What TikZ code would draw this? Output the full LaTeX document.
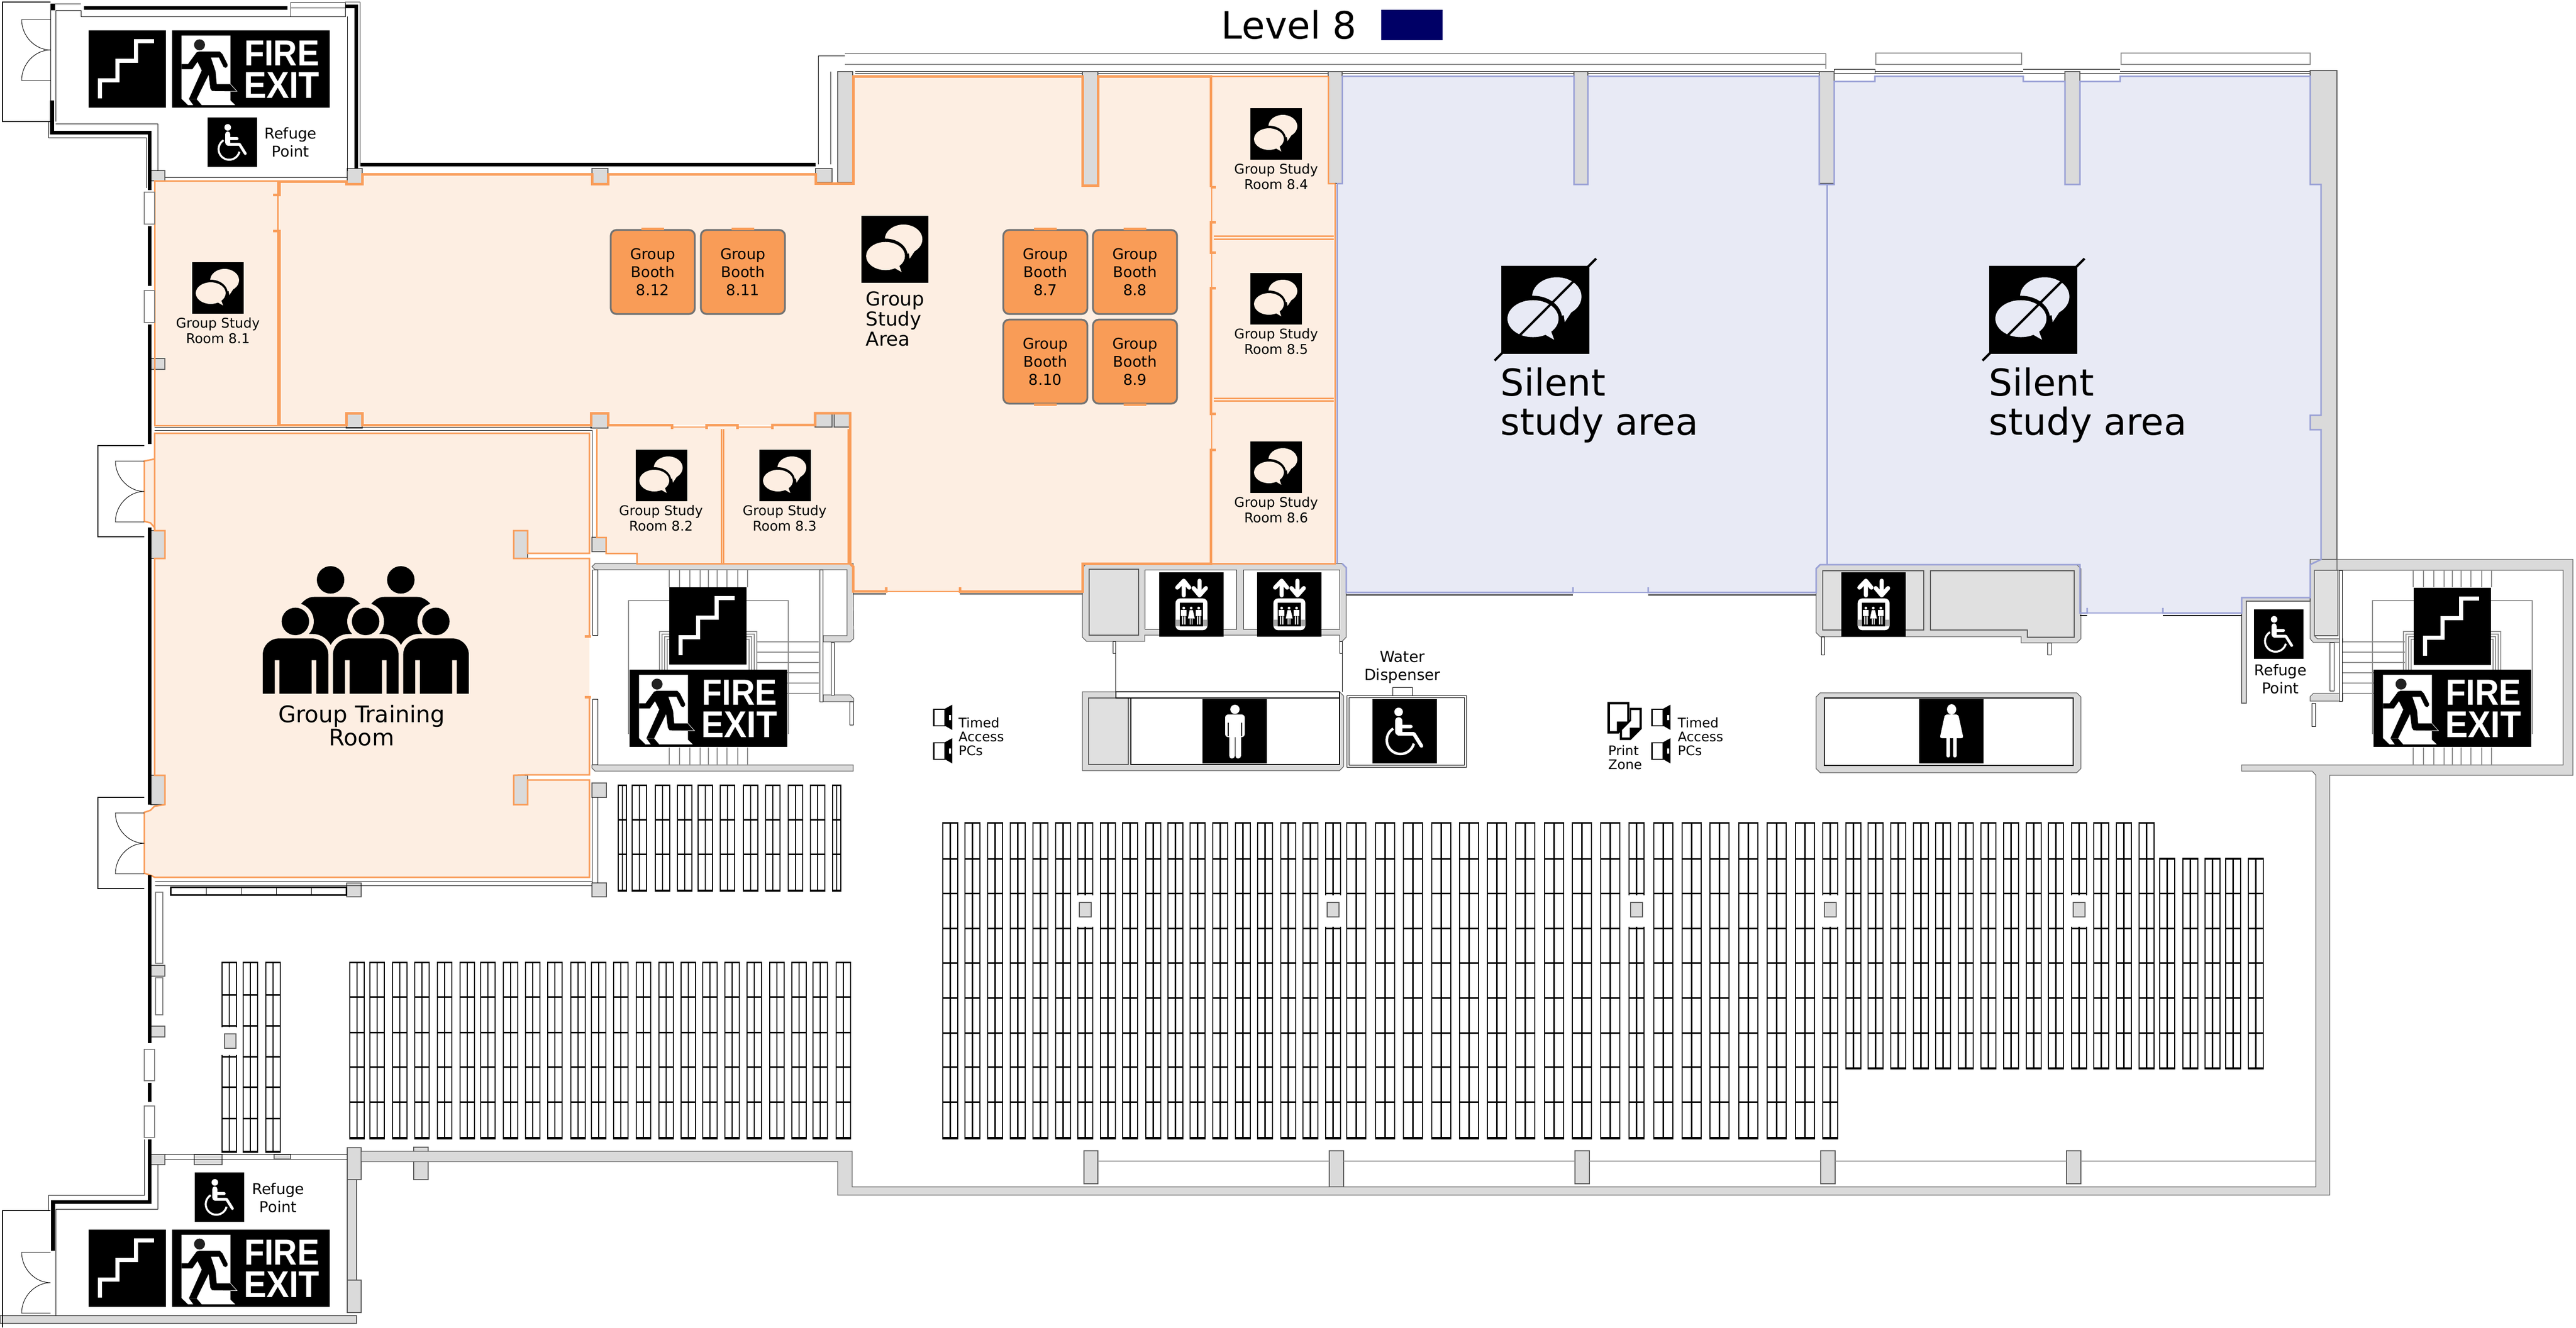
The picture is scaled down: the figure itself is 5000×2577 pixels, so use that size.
\documentclass[tikz,border=0pt]{standalone}
\usepackage{fontspec}
\setmainfont{DejaVu Sans}
\newfontfamily\exitfont{Liberation Sans}[FakeStretch=.91]
\definecolor{roomfill}{HTML}{FDEEE2}
\definecolor{roomline}{HTML}{F99D5A}
\definecolor{boothfill}{HTML}{F99C57}
\definecolor{silentfill}{HTML}{E8EAF5}
\definecolor{silentline}{HTML}{9AA1D6}
\definecolor{wallgray}{HTML}{DADADA}
\definecolor{shaftgray}{HTML}{E0E0E0}
\definecolor{levelblue}{HTML}{000066}
\colorlet{iconbg}{roomfill}
\tikzset{
  wall/.style={fill=wallgray,draw=black!65,line width=.012cm},
  shaft/.style={fill=shaftgray,draw=black!65,line width=.012cm},
  thinline/.style={draw=black,line width=.01cm},
  grayline/.style={draw=black!45,line width=.012cm},
  heavyline/.style={draw=black,line width=.07cm},
  winbox/.style={draw=black,fill=white,line width=.01cm},
  sidewin/.style={draw=black!50,fill=white,line width=.012cm},
  orangethick/.style={draw=roomline,line width=.05cm},
  orangethin/.style={draw=roomline,line width=.03cm},
  bluethin/.style={draw=silentline,line width=.03cm},
  shelfedge/.style={draw=black,line width=.012cm,fill=white},
  shelfmid/.style={draw=black,line width=.025cm},
  shelfbar/.style={draw=black,line width=.03cm},
  roomtext/.style={font=\fontsize{7.4}{8.54}\selectfont,align=center,inner sep=0},
  smalltext/.style={font=\fontsize{7.3}{7.7}\selectfont,align=left,inner sep=0},
  refugetext/.style={font=\fontsize{8.25}{9.96}\selectfont,align=center,inner sep=0},
  booth/.style={fill=boothfill,draw=black!55,line width=.035cm,rounded corners=.11cm,
    minimum width=1.63cm,minimum height=1.63cm,inner sep=0,align=center,
    font=\fontsize{8.2}{9.96}\selectfont},
  boothgap/.style={draw=boothfill,line width=.045cm},
  pics/stairsign/.style={code={
    \fill[black] (0,0) rectangle (150,150);
    \draw[white,line width=.078cm] (22,132) -- (22,97) -- (56,97) -- (56,59) -- (92,59) -- (92,21) -- (127,21);
  }},
  pics/exitsign/.style={code={
    \begin{scope}[scale=.3333,shift={(-12,-12)}]
      \fill[black] (12,12) rectangle (930,462);
      \fill[white] (67,42) -- (352,42) -- (352,420) -- (380,447) -- (185,447) -- (155,412) -- (110,412) -- (135,447) -- (105,447) -- (67,410) -- cycle;
      \fill[black] (67,208) -- (105,208) -- (155,140) -- (170,135) -- (290,135) -- (305,150) -- (335,210) -- (335,220) -- (325,230) -- (312,225) -- (285,170) -- (238,170) -- (265,250) -- (272,325) -- (352,325) -- (370,345) -- (392,367) -- (245,365) -- (235,350) -- (225,270) -- (155,412) -- (110,412) -- (185,245) -- (160,195) -- (130,238) -- (67,238) -- cycle;
      \draw[white,line width=.008cm] (352,325) -- (390,367) -- (352,367);
      \fill[black!87] (172,96) circle (32);
      \node[inner sep=0,text=white,font=\exitfont\bfseries\fontsize{20}{22}\selectfont] (firetext) at (651,145) {FIRE};
      \node[inner sep=0,text=white,font=\exitfont\bfseries\fontsize{20.6}{22}\selectfont] (exittext) at (651,331) {EXIT};
    \end{scope}
  }},
  pics/wheelsign/.style={code={
    \begin{scope}[scale=#1*.3333,shift={(-42,-55)}]
      \fill[black] (42,55) rectangle (417,430);
      \fill[white] (194,130) circle (25);
      \draw[white,line width=#1*.14cm,line cap=round] (194,182) -- (194,245);
      \draw[white,line width=#1*.07cm,line cap=round] (194,215) -- (265,215);
      \draw[white,line width=#1*.07cm,line cap=round,line join=round] (194,258) -- (283,258) -- (327,328);
      \draw[white,line width=#1*.05cm] (205,295) ++(238:80) arc[start angle=238,end angle=14,radius=80];
    \end{scope}
  }},
  pics/speech/.style={code={
    \begin{scope}[scale=#1]
      \fill[black] (0,0) rectangle (100,100);
      \fill[iconbg] (63,35) ellipse[x radius=28,y radius=22];
      \fill[iconbg] (70,50) -- (72,64) -- (84,46) -- cycle;
      \fill[black] (36,60) ellipse[x radius=33,y radius=26];
      \fill[iconbg] (36,60) ellipse[x radius=29,y radius=21];
      \fill[iconbg] (46,76) -- (60,84) -- (55,70) -- cycle;
    \end{scope}
  }},
  pics/liftsign/.style={code={
    \begin{scope}[scale=.3333,shift={(-30,-36)}]
      \fill[black] (30,36) rectangle (405,410);
      \draw[white,line width=.08cm,line cap=round,line join=round] (173,170) -- (173,85) (135,125) -- (173,85) -- (205,125);
      \draw[white,line width=.08cm,line cap=round,line join=round] (265,85) -- (265,170) (230,128) -- (265,170) -- (302,128);
      \fill[white,rounded corners=.09cm] (125,188) rectangle (311,373);
      \fill[black] (150,213) rectangle (285,350);
      \fill[black!35] (125,312) rectangle (150,350) (285,312) rectangle (311,350);
      \foreach \px in {173,260}{
        \fill[white] (\px,244) circle (8);
        \fill[white] (\px-17,256) rectangle (\px+17,292);
        \fill[white] (\px-10,292) rectangle (\px-3,340) (\px+3,292) rectangle (\px+10,340);
      }
      \fill[white] (216,244) circle (8);
      \fill[white] (207,256) -- (226,256) -- (237,305) -- (197,305) -- cycle;
      \fill[white] (208,305) rectangle (213,340) (219,305) rectangle (224,340);
    \end{scope}
  }},
  pics/malesign/.style={code={
    \fill[black] (0,0) rectangle (125,125);
    \fill[white] (63,20) ellipse[x radius=9,y radius=9];
    \fill[white,rounded corners=.06cm] (44,30) rectangle (82,74);
    \fill[white] (52,60) rectangle (74,74);
    \draw[white,line width=.11cm,line cap=round] (57,70) -- (57,110) (69,70) -- (69,110);
    \fill[black] (49,46) rectangle (51,72) (75,46) rectangle (77,72);
  }},
  pics/femalesign/.style={code={
    \fill[black] (0,0) rectangle (125,125);
    \fill[white] (63,20) ellipse[x radius=9,y radius=10];
    \fill[white,rounded corners=.04cm] (50,30) -- (76,30) -- (86,76) -- (40,76) -- cycle;
    \draw[white,line width=.07cm,line cap=round] (56,74) -- (56,110) (69,74) -- (69,110);
  }},
  pics/pcicon/.style={code={
    \begin{scope}[scale=.3333,shift={(-316,-25)}]
      \draw[black,fill=white,line width=.027cm] (320,52) rectangle (386,148);
      \fill[black] (386,48) -- (428,25) -- (428,172) -- (386,148) -- cycle;
      \fill[white] (408,85) rectangle (420,115);
    \end{scope}
  }},
  pics/printicon/.style={code={
    \begin{scope}[scale=.3333]
      \fill[black] (60,8) -- (188,8) -- (188,125) -- (125,192) -- (60,192) -- cycle;
      \fill[white] (75,22) -- (175,22) -- (175,122) -- (115,122) -- (115,178) -- (75,178) -- cycle;
      \fill[black] (190,42) -- (260,42) -- (260,165) -- (195,230) -- (132,230) -- (132,170) -- (190,110) -- cycle;
      \fill[white] (198,55) -- (247,55) -- (247,158) -- (190,158) -- (190,215) -- (145,215) -- (145,172) -- (198,118) -- cycle;
    \end{scope}
  }},
  pics/crowd/.style={code={
    \begin{scope}[scale=.3333]
      \foreach \cx in {0,409}{
        \fill[black] (\cx+425,107) circle (80);
        \fill[black] (\cx+250,250) .. controls (\cx+275,220) and (\cx+300,206) .. (\cx+330,206) -- (\cx+520,206) .. controls (\cx+550,206) and (\cx+580,225) .. (\cx+600,250) -- (\cx+600,430) .. controls (\cx+500,430) and (\cx+450,450) .. (\cx+425,500) .. controls (\cx+400,450) and (\cx+350,430) .. (\cx+250,430) -- cycle;
      }
      \foreach \cx in {0,409,818}{
        \fill[roomfill] (\cx+220,349) circle (107);
        \fill[roomfill,rounded corners=.4cm] (\cx+3,790) -- (\cx+3,422) -- (\cx+439,422) -- (\cx+439,790) -- cycle;
      }
      \fill[roomfill] (0,540) rectangle (1260,790);
      \foreach \cx in {0,409,818}{
        \fill[black] (\cx+220,349) circle (80);
        \fill[black] (\cx+30,770) [rounded corners=.317cm] -- (\cx+30,448) -- (\cx+412,448) [sharp corners] -- (\cx+412,770) -- cycle;
        \fill[roomfill] (\cx+100,575) rectangle (\cx+127,772) (\cx+315,575) rectangle (\cx+342,772);
      }
    \end{scope}
  }},
  pics/doorswing/.style={code={
    \draw[thinline] (0,-59) -- (-56,-59) .. controls (-56,-27) and (-30,0) .. (0,0) .. controls (-30,0) and (-56,27) .. (-56,59) -- (0,59);
  }},
}
\newcommand{\shelves}[5]{%
  \foreach \sx in {#1}{
    \draw[shelfedge] (\sx,#3) rectangle ({\sx+#2},#4);
    \draw[shelfmid] ({\sx+#2/2},#3) -- ({\sx+#2/2},#4);
    \foreach \by in {#5} \draw[shelfbar] (\sx,\by) -- ({\sx+#2},\by);
  }}
\begin{document}
\begin{tikzpicture}[x=.01cm,y=-.01cm,line join=miter]
  \useasboundingbox (0,0) rectangle (5000,2577);
  % room fills
  \fill[roomfill] (542,352) -- (672,352) -- (672,357) -- (703,357) -- (703,338) -- (1149,338) -- (1149,357) -- (1180,357) -- (1180,338) -- (1583,338) -- (1583,356) -- (1656,356) -- (1656,148) -- (2101,148) -- (2101,360) -- (2131,360) -- (2131,148) -- (2350,148) -- (2350,1094) -- (2101,1094) -- (2101,1148) -- (1656,1148) -- (1656,1100) -- (1650,1094) -- (1650,802) -- (1582,802) -- (1582,825) -- (1180,825) -- (1180,802) -- (1147,802) -- (1147,825) -- (703,825) -- (703,802) -- (672,802) -- (672,825) -- (542,825) -- cycle;
  \fill[roomfill] (300,351) rectangle (539,826);
  \fill[roomfill] (2350,148) rectangle (2589,1094);
  \fill[roomfill] (1158,829) -- (1646,829) -- (1646,1094) -- (1236,1094) -- (1236,1074) -- (1176,1074) -- (1158,1043) -- cycle;
  \fill[roomfill] (300,841) -- (1144,841) -- (1144,1074) -- (1024,1074) -- (1024,1030) -- (997,1030) -- (997,1084) -- (1144,1084) -- (1144,1504) -- (1024,1504) -- (997,1505) -- (997,1562) -- (1024,1562) -- (1024,1514) -- (1144,1514) -- (1144,1703) -- (300,1703) -- (292,1699) -- (280,1695) -- (280,1577) -- (292,1573) -- (300,1565) -- (320,1562) -- (320,1505) -- (300,1505) -- (300,1084) -- (320,1084) -- (320,1030) -- (300,1030) -- (300,1024) -- (292,1015) -- (280,1012) -- (280,895) -- (300,891) -- cycle;
  \fill[silentfill] (2605,148) -- (3055,148) -- (3055,358) -- (3082,358) -- (3082,148) -- (3532,148) -- (3532,358) -- (3545,358) -- (3545,1094) -- (3525,1104) -- (3525,1152) -- (2613,1152) -- (2613,1102) -- (2605,1094) -- (2595,1094) -- (2595,358) -- (2605,358) -- cycle;
  \fill[silentfill] (3560,158) -- (3639,158) -- (3639,148) -- (3927,148) -- (3927,158) -- (4008,158) -- (4008,358) -- (4037,358) -- (4037,158) -- (4115,158) -- (4115,148) -- (4484,148) -- (4484,358) -- (4505,358) -- (4505,806) -- (4484,806) -- (4484,834) -- (4505,834) -- (4505,1086) -- (4484,1096) -- (4484,1160) -- (4351,1160) -- (4351,1190) -- (4037,1190) -- (4037,1096) -- (3547,1096) -- (3547,358) -- (3560,358) -- cycle;
  % top window lines
  \draw[grayline] (1640,104) -- (3544,104) (1640,125) -- (3544,125) (3544,104) -- (3544,134);
  \draw[grayline] (3641,103) rectangle (3924,125) (4117,103) rectangle (4484,125);
  \draw[thinline] (1660,138) -- (3530,138) (1660,142) -- (3530,142) (3560,142) -- (4484,142) (3560,138) -- (3560,134) -- (3639,134) -- (3639,142);
  \draw[thinline] (3639,138) -- (3927,138) (3927,134) -- (4115,134) (4115,138) -- (4484,138);
  \draw[thinline] (1588,319) -- (1588,108) -- (1640,108);
  \draw[thinline] (1612,139) -- (1612,319);
  % walls
  \foreach \ax/\ay/\bx/\by in {293/331/320/351,674/327/703/357,1149/327/1180/357,1583/327/1615/354,1626/139/1655/354,293/696/320/717,672/802/703/831,1147/802/1180/831,1582/802/1615/829,1619/802/1651/829,293/1030/320/1084,997/1030/1024/1084,1149/1043/1176/1071,293/1505/320/1562,997/1505/1024/1562,1149/1520/1177/1548,673/1714/701/1741,1149/1714/1177/1741,293/1874/320/1895,293/1992/320/2013,293/2241/320/2261,377/2241/431/2261,532/2241/564/2250,2101/139/2131/360,2578/139/2605/356,3055/139/3082/358,3531/139/3560/356,4008/139/4037/358,2104/2234/2131/2298,2580/2234/2608/2304,3057/2234/3085/2298,3534/2234/3562/2298,4011/2234/4039/2298,674/2290/692/2548,0/2554/692/2569,674/2228/701/2290,674/2485/701/2548,803/2227/831/2290}
    \draw[wall] (\ax,\ay) rectangle (\bx,\by);
  \draw[wall] (701,2235) -- (1654,2235) -- (1654,2304) -- (4495,2304) -- (4495,1505) -- (4488,1497) -- (4351,1497) -- (4351,1485) -- (4975,1485) -- (4975,1107) -- (4536,1107) -- (4536,1086) -- (4994,1086) -- (4994,1505) -- (4522,1505) -- (4522,2320) -- (1626,2320) -- (1626,2255) -- (701,2255) -- cycle;
  \draw[wall] (4484,137) -- (4536,137) -- (4536,1086) -- (4505,1086) -- (4505,834) -- (4484,834) -- (4484,806) -- (4505,806) -- (4505,358) -- (4484,358) -- cycle;
  \draw[grayline] (2131,2254) -- (2580,2254) (2608,2254) -- (3057,2254) (3085,2254) -- (3534,2254) (3562,2254) -- (4011,2254) (4039,2254) -- (4495,2254);
  % middle stair core
  \draw[wall] (1155,1094) -- (1656,1094) -- (1657,1240) -- (1650,1246) -- (1598,1246) -- (1598,1234) -- (1644,1234) -- (1644,1106) -- (1155,1106) -- (1149,1100) -- cycle;
  \draw[wall] (1149,1485) -- (1656,1485) -- (1656,1497) -- (1155,1497) -- (1149,1491) -- cycle;
  \draw[wall] (1598,1349) -- (1650,1349) -- (1657,1356) -- (1657,1362) -- (1598,1362) -- cycle;
  \draw[winbox] (1591,1106) rectangle (1597,1362) (1613,1247) rectangle (1619,1349) (1649,1362) rectangle (1656,1407) (1150,1106) rectangle (1160,1233) (1150,1357) rectangle (1160,1484);
  % right stair core
  \draw[shaft] (4492,1107) rectangle (4538,1234);
  \draw[wall] (4484,1086) -- (4536,1086) -- (4536,1107) -- (4492,1107) -- (4492,1234) -- (4498,1240) -- (4547,1240) -- (4547,1247) -- (4490,1247) -- (4484,1240) -- cycle;
  \draw[wall] (4351,1160) -- (4484,1160) -- (4484,1167) -- (4360,1167) -- (4360,1365) -- (4351,1365) -- cycle;
  \draw[wall] (4490,1346) -- (4547,1346) -- (4547,1361) -- (4484,1361) -- (4484,1352) -- cycle;
  \draw[winbox] (4487,1365) rectangle (4494,1410) (4522,1247) rectangle (4530,1341) (4540,1107) rectangle (4546,1361);
  % stairs drawn under the signs
  \foreach \dx in {0,3385}{
    \draw[grayline] (\dx+1220,1425) -- (\dx+1220,1166) -- (\dx+1530,1166) -- (\dx+1530,1425);
    \foreach \ux in {0,5,10,15}
      \draw[grayline] (\dx+1280+\ux,1300) -- (\dx+1280+\ux,1226+\ux) -- (\dx+1469-\ux,1226+\ux) -- (\dx+1469-\ux,1300);
    \foreach \sx in {1299,1319,1339,1359,1375,1392,1411,1432,1451}
      \draw[grayline] (\dx+\sx,1107) -- (\dx+\sx,1140) (\dx+\sx,1451) -- (\dx+\sx,1484);
  }
  \foreach \sy in {1246,1266,1286,1306,1326,1346}
    \draw[grayline] (1469,\sy) -- (1589,\sy) (4547,\sy) -- (4668,\sy);
  % lift and toilet cores
  \draw[wall] (2109,1094) -- (2605,1094) -- (2613,1102) -- (2613,1237) -- (2605,1245) -- (2600,1245) -- (2600,1233) -- (2222,1233) -- (2222,1245) -- (2109,1245) -- (2101,1237) -- (2101,1102) -- cycle;
  \draw[shaft] (2114,1105) rectangle (2210,1233);
  \draw[winbox] (2222,1106) rectangle (2400,1221) (2413,1106) rectangle (2600,1221) (2160,1245) rectangle (2165,1268) (2600,1245) rectangle (2605,1268);
  \draw[thinline] (2165,1268) -- (2165,1343) (2605,1268) -- (2605,1343);
  \draw[wall] (3533,1096) -- (4031,1096) -- (4039,1104) -- (4039,1240) -- (4031,1248) -- (3923,1248) -- (3923,1236) -- (3533,1236) -- (3525,1228) -- (3525,1104) -- cycle;
  \draw[shaft] (3538,1108) rectangle (3734,1223);
  \draw[shaft] (3747,1108) -- (4026,1108) -- (4026,1237) -- (3935,1237) -- (3935,1223) -- (3747,1223) -- cycle;
  \draw[winbox] (3535,1236) rectangle (3541,1271) (3974,1248) rectangle (3981,1271);
  \draw[wall] (2101,1343) -- (2600,1343) -- (2608,1351) -- (2608,1488) -- (2600,1496) -- (2101,1496) -- cycle;
  \draw[shaft] (2113,1355) rectangle (2190,1484);
  \draw[winbox,line width=.018cm] (2195,1355) rectangle (2600,1484) (2166,1343) rectangle (2600,1355);
  \draw[winbox] (2614,1350) rectangle (2846,1489) (2618,1354) rectangle (2842,1485) (2703,1334) rectangle (2741,1350);
  \draw[wall] (3533,1345) -- (4031,1345) -- (4039,1353) -- (4039,1492) -- (4031,1500) -- (3533,1500) -- (3525,1492) -- (3525,1353) -- cycle;
  \draw[winbox,line width=.018cm] (3541,1355) rectangle (4024,1486);
  % room outlines
  \draw[orangethick,line join=miter] (2350,363) -- (2350,148) -- (2131,148) -- (2131,360) -- (2101,360) -- (2101,148) -- (1656,148) -- (1656,356) -- (1583,356) -- (1583,338) -- (1180,338) -- (1180,357) -- (1149,357) -- (1149,338) -- (703,338) -- (703,357) -- (672,357) -- (672,352) -- (542,352) -- (542,378) -- (530,378);
  \draw[orangethick] (2360,431) -- (2350,431) -- (2350,490) -- (2360,490) (2360,559) -- (2350,559) -- (2350,803) -- (2360,803) (2360,873) -- (2350,873) -- (2350,1094) -- (2101,1094) -- (2101,1148) -- (1863,1148) -- (1863,1140);
  \draw[orangethick] (1720,1140) -- (1720,1148) -- (1656,1148) -- (1656,1100) -- (1650,1094) -- (1650,802) -- (1582,802) -- (1582,825) -- (1499,825) -- (1499,833);
  \draw[orangethick] (1431,833) -- (1431,825) -- (1371,825) -- (1371,833) (1304,833) -- (1304,825) -- (1180,825) -- (1180,802) -- (1147,802) -- (1147,825) -- (703,825) -- (703,802) -- (672,802) -- (672,825) -- (542,825) -- (542,448) -- (530,448) (2350,363) -- (2360,363);
  \draw[draw=roomline,line width=.012cm] (539,378) -- (539,448) (2352,363) -- (2352,431) (2352,490) -- (2352,559) (2352,803) -- (2352,873) (1720,1148) -- (1863,1148) (1304,829) -- (1371,829) (1431,829) -- (1499,829);
  \draw[orangethin] (300,351) -- (539,351) -- (539,826) -- (300,826) -- cycle;
  \draw[orangethin] (2356,458) -- (2589,458) (2356,464) -- (2589,464) (2356,773) -- (2589,773) (2356,778) -- (2589,778) (2350,148) -- (2578,148) (2591,356) -- (2591,1094) -- (2350,1094);
  \draw[orangethin] (2578,148) -- (2578,356) -- (2591,356);
  \draw[orangethin] (1158,833) -- (1158,1043) -- (1176,1043) -- (1176,1074) -- (1236,1074) -- (1236,1094) -- (1646,1094) -- (1646,833) (1400,833) -- (1400,1094) (1404,833) -- (1404,1094);
  \draw[orangethin] (1144,1235) -- (1144,1084) -- (997,1084) -- (997,1030) -- (1024,1030) -- (1024,1074) -- (1144,1074) -- (1144,841) -- (300,841) -- (300,1030) -- (320,1030) -- (320,1084) -- (300,1084) -- (300,1505) -- (320,1505) -- (320,1562) -- (300,1565) -- (292,1573) -- (280,1577) -- (280,1695) -- (292,1699) -- (300,1703) -- (1144,1703) -- (1144,1514) -- (1024,1514) -- (1024,1562) -- (997,1562) -- (997,1505) -- (1024,1504) -- (1144,1504) -- (1144,1353);
  \draw[orangethin] (300,1030) -- (300,1024) -- (292,1015) -- (280,1012) -- (280,895) -- (300,891);
  \draw[draw=roomline,line width=.05cm] (1135,1235) -- (1147,1235) (1135,1353) -- (1147,1353);
  \draw[bluethin] (2605,148) -- (3055,148) -- (3055,358) -- (3082,358) -- (3082,148) -- (3531,148) -- (3531,358) -- (3560,358) -- (3560,158) -- (3639,158) -- (3639,148) -- (3927,148) -- (3927,158) -- (4008,158) -- (4008,358) -- (4037,358) -- (4037,158) -- (4115,158) -- (4115,148) -- (4484,148) -- (4484,358) -- (4505,358) -- (4505,806) -- (4484,806) -- (4484,834) -- (4505,834) -- (4505,1086) -- (4484,1096) -- (4484,1160) -- (4351,1160) -- (4351,1190) -- (4198,1190) -- (4198,1180);
  \draw[bluethin] (4051,1180) -- (4051,1190) -- (4037,1190) -- (4037,1096) -- (3533,1096) -- (3525,1104) -- (3525,1150) -- (3199,1150) -- (3199,1140) (3053,1140) -- (3053,1150) -- (2613,1150) -- (2613,1102) -- (2605,1094);
  \draw[bluethin] (3546,358) -- (3546,1096) (2595,358) -- (2595,1094) (2605,148) -- (2605,356) -- (2595,356);
  \draw[draw=silentline,line width=.012cm] (3053,1150) -- (3199,1150) (4051,1190) -- (4198,1190);
  \draw[thinline,line width=.016cm] (1863,1153) -- (2101,1153) (1656,1153) -- (1720,1153) (2613,1155) -- (3053,1155) (3199,1155) -- (3525,1155) (4198,1195) -- (4351,1195) (4037,1195) -- (4051,1195);
  % outer black walls
  \draw[heavyline] (691,327) -- (691,12) -- (670,12) (558,15) -- (163,15) (699,319) -- (1583,319);
  \draw[heavyline] (103,7) -- (103,20) (101,195) -- (101,257) -- (290,257) -- (290,369) (290,439) -- (290,555) (290,630) -- (290,862) (290,1024) -- (290,1562) (290,1699) -- (290,2025) (290,2102) -- (290,2139) (290,2212) -- (290,2333) -- (103,2333) -- (103,2428);
  \draw[thinline] (564,4) rectangle (670,32) (564,15) -- (670,15);
  \draw[thinline] (157,7) -- (98,7) -- (98,236) (157,32) -- (564,32) (108,20) -- (157,20) -- (157,32) (108,20) -- (108,236) (674,32) -- (674,332);
  \draw[grayline] (699,4) -- (699,323) (670,4) -- (699,4);
  \draw[thinline] (94,236) -- (94,267) -- (284,267) -- (284,365) (108,240) -- (306,240) -- (306,332) (321,344) -- (674,344);
  \draw[thinline] (300,829) -- (1149,829) (300,835) -- (1149,835) (1149,835) -- (1149,1043) (301,1711) -- (1149,1711) (301,1719) -- (1149,1719) (1149,1548) -- (1149,1714) (1160,1548) -- (1160,1714);
  \draw[thinline] (320,2241) -- (674,2241) (320,2250) -- (674,2250) (306,2261) -- (306,2347) -- (108,2347) -- (108,2554) (94,2320) -- (280,2320) -- (280,2212) (94,2320) -- (94,2350);
  \foreach \ay/\by in {373/435,564/626,2037/2098,2147/2208}
    \draw[sidewin] (280,\ay) rectangle (300,\by);
  \draw[sidewin] (302,1732) rectangle (316,1870) (302,1898) rectangle (316,1970);
  \draw[shelfedge,line width=.03cm] (331,1722) rectangle (672,1737);
  \foreach \sx in {400,468,536,604} \draw[thinline] (\sx,1722) -- (\sx,1737);
  % doors
  \draw[draw=black,line width=.025cm] (98,4) -- (5,4) -- (5,236) -- (98,236) (280,865) -- (190,865) -- (190,1042) -- (280,1042) (280,1548) -- (190,1548) -- (190,1725) -- (280,1725) (98,2350) -- (5,2350) -- (5,2577);
  \foreach \hx/\hy in {98/97,280/954,280/1637,98/2490}
    \pic at (\hx,\hy) {doorswing};
  % shelves
  \shelves{1830,1873,1917,1961,2005,2049,2092,2136,2179,2224,2267,2310,2354,2398,2441,2486,2529,2573,3162,3538}{29}{1597}{2211}{1597,1667,1734,1802,1869,1937,2005,2071,2139,2208}
  \shelves{2614,2670,2724,2779,2833,2887,2942,2998,3052,3107,3210,3265,3319,3375,3430,3485}{37}{1597}{2211}{1597,1667,1734,1802,1869,1937,2005,2071,2139,2208}
  \shelves{3583,3626,3670,3714,3757,3801,3845,3889,3933,3976,4021,4064,4108,4152}{29}{1597}{2075}{1597,1667,1734,1802,1869,1937,2005,2073}
  \shelves{4192,4237,4280,4320,4364}{29}{1666}{2075}{1667,1734,1802,1869,1937,2005,2073}
  \shelves{679,718,762,805,849,893,933,977,1020,1063,1108,1148,1191,1235,1279,1322,1364,1407,1450,1494,1537,1578,1623}{28}{1868}{2211}{1868,1935,2004,2071,2139,2208}
  \shelves{431,472,516}{28}{1868}{2237}{1868,1931,1991,2051,2110,2171,2235}
  \shelves{1227,1272,1315,1355,1398,1443,1486,1530,1573}{28}{1524}{1730}{1524,1591,1658,1728}
  \shelves{1200,1616}{16}{1524}{1730}{1524,1591,1658,1728}
  \foreach \sx in {2092,2573,3162,3538,4021}{
    \fill[white] (\sx-3,1738) rectangle (\sx+32,1799);
    \draw[wall] (\sx+3,1752) rectangle (\sx+26,1780);
  }
  \fill[white] (428,1994) rectangle (462,2048);
  \draw[wall] (436,2007) rectangle (458,2035);
  % booths
  \node[booth] (b812) at (1267,528) {Group\\Booth\\8.12};
  \node[booth] (b811) at (1442,528) {Group\\Booth\\8.11};
  \node[booth] (b87) at (2029,528) {Group\\Booth\\8.7};
  \node[booth] (b88) at (2203,528) {Group\\Booth\\8.8};
  \node[booth] (b810) at (2029,702) {Group\\Booth\\8.10};
  \node[booth] (b89) at (2203,702) {Group\\Booth\\8.9};
  \foreach \bn in {b812,b811,b87,b88}
    \draw[boothgap] ([xshift=-.22cm]\bn.north) -- ([xshift=.22cm]\bn.north);
  \foreach \bn in {b810,b89}
    \draw[boothgap] ([xshift=-.22cm]\bn.south) -- ([xshift=.22cm]\bn.south);
  % signs
  \foreach \sx/\sy in {172/59,1299/1140,4685/1141,172/2387}
    \pic at (\sx,\sy) {stairsign};
  \foreach \sx/\sy in {334/59,1222/1300,4607/1300,334/2387}
    \pic at (\sx,\sy) {exitsign};
  \foreach \sx/\sy in {403/228,4375/1183,378/2276}
    \pic at (\sx,\sy) {wheelsign=.77};
  \pic at (2664,1357) {wheelsign=1};
  \foreach \sx in {2250,2440,3574}
    \pic at (\sx,1111) {liftsign};
  \pic at (2334,1357) {malesign};
  \pic at (3725,1357) {femalesign};
  \pic at (500,1090) {crowd};
  \foreach \sx/\sy in {373/509,1234/873,1474/873,2427/210,2427/530,2427/857}
    \pic at (\sx,\sy) {speech=1};
  \pic at (1672,419) {speech=1.3};
  \colorlet{iconbg}{silentfill}
  \pic at (2914,516) {speech=1.71};
  \pic at (3861,516) {speech=1.71};
  \draw[black,line width=.045cm] (3098,502) -- (2901,700) (4046,502) -- (3848,700);
  \pic at (3100,1360) {printicon};
  \foreach \sx/\sy in {1811/1368,1811/1433,3205/1368,3205/1433}
    \pic at (\sx,\sy) {pcicon};
  % labels
  \node[inner sep=0,font=\fontsize{20.8}{24}\selectfont] (levelname) at (2502,48) {Level 8};
  \fill[levelblue] (2681,19) rectangle (2800,78);
  \node[roomtext] (r81) at (423,642) {Group Study\\Room 8.1};
  \node[roomtext] (r82) at (1283,1006) {Group Study\\Room 8.2};
  \node[roomtext] (r83) at (1523,1006) {Group Study\\Room 8.3};
  \node[roomtext] (r84) at (2477,343) {Group Study\\Room 8.4};
  \node[roomtext] (r85) at (2477,663) {Group Study\\Room 8.5};
  \node[roomtext] (r86) at (2477,990) {Group Study\\Room 8.6};
  \node[inner sep=0,anchor=west,align=left,font=\fontsize{10.6}{11.1}\selectfont] (areaname) at (1680,619) {Group\\Study\\Area};
  \node[inner sep=0,align=center,font=\fontsize{12.6}{12.8}\selectfont] (trainname) at (702,1408) {Group Training\\Room};
  \node[inner sep=0,anchor=west,align=left,font=\fontsize{20.5}{21.6}\selectfont] (silentone) at (2912,787) {Silent\\study area};
  \node[inner sep=0,anchor=west,align=left,font=\fontsize{20.5}{21.6}\selectfont] (silenttwo) at (3860,787) {Silent\\study area};
  \node[refugetext] (refugeone) at (564,276) {Refuge\\Point};
  \node[refugetext] (refugetwo) at (4426,1318) {Refuge\\Point};
  \node[refugetext] (refugethree) at (540,2325) {Refuge\\Point};
  \node[inner sep=0,align=center,font=\fontsize{8.4}{9.96}\selectfont] (watername) at (2722,1295) {Water\\Dispenser};
  \node[smalltext,anchor=west] (timedone) at (1860,1430) {Timed\\Access\\PCs};
  \node[smalltext,anchor=west] (timedtwo) at (3256,1430) {Timed\\Access\\PCs};
  \node[smalltext,anchor=west] (printname) at (3121,1470) {Print\\Zone};
\end{tikzpicture}
\end{document}
